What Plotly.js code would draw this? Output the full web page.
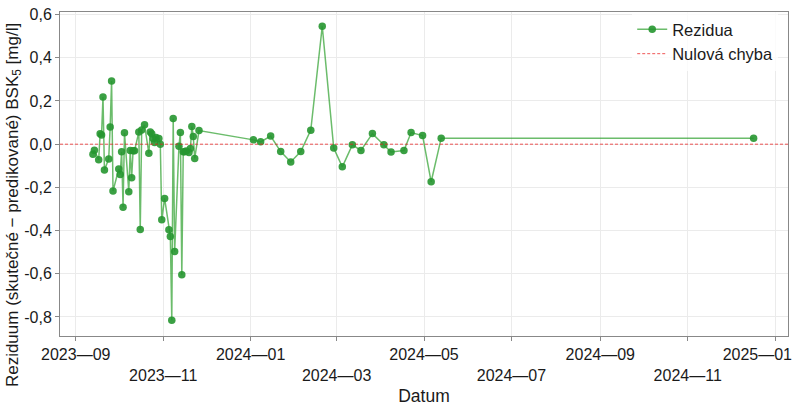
<!DOCTYPE html>
<html>
<head>
<meta charset="utf-8">
<script src="https://cdn.plot.ly/plotly-3.0.1.min.js"></script>
<style>html,body{margin:0;padding:0;background:#fff;}#chart{width:800px;height:415px;}</style>
</head>
<body>
<div id="chart"></div>
<script>
const dates = [
  "2023-09-13","2023-09-14","2023-09-17","2023-09-18","2023-09-19","2023-09-20","2023-09-21",
  "2023-09-24","2023-09-25","2023-09-26","2023-09-27","2023-10-01","2023-10-02","2023-10-03",
  "2023-10-04","2023-10-05","2023-10-08","2023-10-09","2023-10-10","2023-10-11","2023-10-12",
  "2023-10-15","2023-10-16","2023-10-17","2023-10-19","2023-10-22","2023-10-23","2023-10-24",
  "2023-10-25","2023-10-26","2023-10-27","2023-10-29","2023-10-30","2023-10-31","2023-11-02",
  "2023-11-05","2023-11-06","2023-11-07","2023-11-08","2023-11-09","2023-11-12","2023-11-13",
  "2023-11-14","2023-11-15","2023-11-16","2023-11-17","2023-11-19","2023-11-20","2023-11-21",
  "2023-11-22","2023-11-23","2023-11-26",
  "2024-01-03","2024-01-08","2024-01-15","2024-01-22","2024-01-29","2024-02-05","2024-02-12",
  "2024-02-20","2024-02-28","2024-03-05","2024-03-12","2024-03-18","2024-03-26","2024-04-03",
  "2024-04-08","2024-04-17","2024-04-22","2024-04-30","2024-05-06","2024-05-13","2024-12-17"
];
const residuals = [
  -0.046,-0.028,-0.072,0.048,0.043,0.218,-0.120,
  -0.068,0.080,0.292,-0.217,-0.115,-0.140,-0.035,
  -0.292,0.053,-0.220,-0.029,-0.155,-0.030,-0.030,
  0.056,-0.395,0.066,0.090,-0.042,0.057,0.048,
  0.026,0.008,0.031,0.026,0.000,-0.350,-0.251,
  -0.396,-0.427,-0.815,0.119,-0.497,-0.010,0.054,
  -0.605,-0.035,-0.035,-0.032,-0.038,-0.020,0.082,
  0.036,-0.066,0.063,
  0.020,0.011,0.038,-0.034,-0.082,-0.034,0.065,
  0.546,-0.018,-0.105,-0.003,-0.029,0.049,-0.003,
  -0.036,-0.029,0.054,0.040,-0.174,0.028,0.028
];
const zeroX = ["2023-08-21","2025-01-10"];
const zeroY = [0, 0];
const tickVals = ["2023-09-01","2023-11-01","2024-01-01","2024-03-01","2024-05-01","2024-07-01","2024-09-01","2024-11-01","2025-01-01"];
const tickText = ["2023\u201409","<br>2023\u201411","2024\u201401","<br>2024\u201403","2024\u201405","<br>2024\u201407","2024\u201409","<br>2024\u201411",
                  "2025\u201401\u00a0\u00a0\u00a0\u00a0\u00a0\u00a0\u00a0\u00a0"];
const yTicks = [-0.8,-0.6,-0.4,-0.2,0,0.2,0.4,0.6];
const yTickText = ["-0,8","-0,6","-0,4","-0,2","0,0","0,2","0,4","0,6"];
const yTitle = "Reziduum (skutečné − predikované) BSK<sub>5</sub> [mg/l]";

const FONT = "'Liberation Sans', Arial, sans-serif";
const TXT = "#1a1a1a";

const traces = [
  {
    x: dates, y: residuals, type: "scatter", mode: "lines+markers", name: "Rezidua",
    line: {color: "rgba(44,160,44,0.7)", width: 1.5},
    marker: {color: "rgba(38,150,48,0.9)", size: 7.5}
  },
  {
    x: zeroX, y: zeroY, type: "scatter", mode: "lines", name: "Nulová chyba",
    line: {color: "rgba(235,30,30,0.75)", width: 1, dash: "3px,2px"}
  }
];

const layout = {
  width: 800, height: 415,
  margin: {l: 60, r: 12, t: 12, b: 79},
  paper_bgcolor: "#fff", plot_bgcolor: "#fff",
  separators: ", ",
  font: {family: FONT, size: 16, color: TXT},
  showlegend: true,
  legend: {x: 0.786, y: 1.0, xanchor: "left", yanchor: "top", bgcolor: "rgba(255,255,255,0.8)",
           font: {family: FONT, size: 16.5, color: TXT}, borderwidth: 0, tracegroupgap: 2},
  xaxis: {
    type: "date", range: ["2023-08-21", "2025-01-10"],
    tickvals: tickVals, ticktext: tickText, tickangle: 0,
    ticklabeloverflow: "allow",
    showgrid: true, gridcolor: "#ebebeb", gridwidth: 1,
    showline: true, linecolor: "#888", linewidth: 1, mirror: true,
    ticks: "outside", ticklen: 4, tickcolor: "#888",
    zeroline: false,
    tickfont: {family: FONT, size: 16, color: TXT},
    title: {text: "Datum", font: {family: FONT, size: 17.5, color: TXT}, standoff: 6}
  },
  yaxis: {
    range: [-0.888, 0.612],
    tickvals: yTicks, ticktext: yTickText,
    showgrid: true, gridcolor: "#ebebeb", gridwidth: 1,
    showline: true, linecolor: "#888", linewidth: 1, mirror: true,
    ticks: "outside", ticklen: 4, tickcolor: "#888",
    zeroline: false,
    tickfont: {family: FONT, size: 16, color: TXT}
  },
  annotations: [{
    text: yTitle, textangle: -90, showarrow: false,
    xref: "paper", yref: "paper", x: -0.0632, y: 0.404,
    xanchor: "center", yanchor: "middle",
    font: {family: FONT, size: 17, color: TXT}
  }]
};

Plotly.newPlot("chart", traces, layout, {displayModeBar: false, staticPlot: true});
</script>
</body>
</html>
